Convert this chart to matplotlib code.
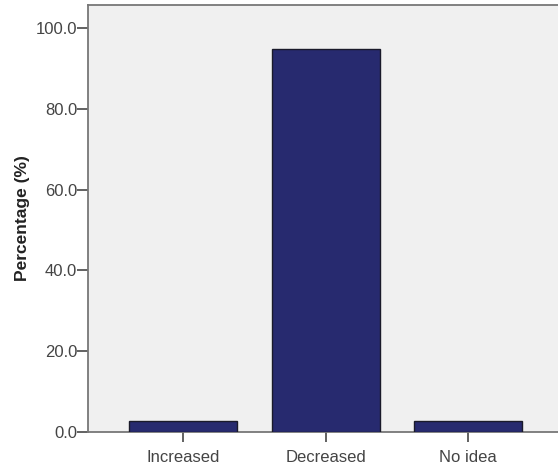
import matplotlib
matplotlib.use("Agg")
import matplotlib.pyplot as plt

categories = ["Increased", "Decreased", "No idea"]
percentages = [2.7, 94.8, 2.7]
y_ticks = [0, 20, 40, 60, 80, 100]

plt.rcParams["font.family"] = ["Liberation Sans", "DejaVu Sans"]

fig = plt.figure(figsize=(5.58, 4.68), dpi=100)
ax = fig.add_axes([0.158, 0.077, 0.842, 0.912])
ax.set_facecolor("#f0f0f0")

x = range(len(categories))
ax.bar(x, percentages, width=0.76, color="#272a6f", edgecolor="#1a1a2a",
       linewidth=1.0, zorder=3)

ax.set_xlim(-0.667, 2.63)
ax.set_ylim(0, 105.7)
ax.set_xticks(list(x))
ax.set_xticklabels(categories)
ax.set_yticks(y_ticks)
ax.set_yticklabels([f"{v:.1f}" for v in y_ticks])

ax.tick_params(axis="both", direction="out", length=8, width=1.3,
               color="#555555", labelcolor="#444444", labelsize=12)
ax.tick_params(axis="y", pad=0)
ax.tick_params(axis="x", length=7, pad=6)

for side in ["left", "bottom", "top"]:
    ax.spines[side].set_color("#777777")
    ax.spines[side].set_linewidth(1.3)
ax.spines["right"].set_visible(False)

ax.set_ylabel("Percentage (%)", fontsize=12.5, fontweight="bold", color="#222222",
              labelpad=4)

fig.savefig("out.png", dpi=100)
